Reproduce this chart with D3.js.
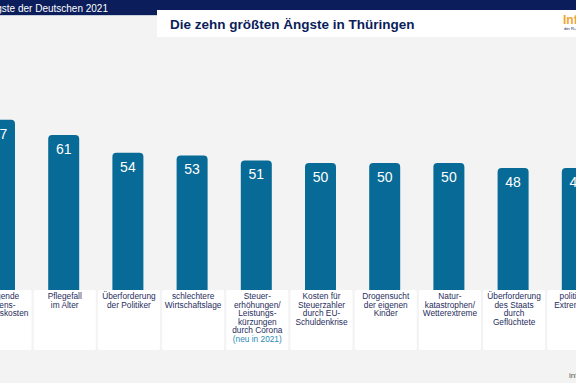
<!DOCTYPE html>
<html>
<head>
<meta charset="utf-8">
<script src="https://cdn.jsdelivr.net/npm/d3@7"></script>
<style>
  body { margin: 0; background: #f3f3f3; }
  svg { display: block; font-family: "Liberation Sans", Arial, sans-serif; }
</style>
</head>
<body>
<svg width="576" height="383"></svg>
<script>
// die zehn groessten Aengste, Thueringen
const categories = [
  "Steigende\nLebens-\nhaltungskosten",
  "Pflegefall\nim Alter",
  "Überforderung\nder Politiker",
  "schlechtere\nWirtschaftslage",
  "Steuer-\nerhöhungen/\nLeistungs-\nkürzungen\ndurch Corona",
  "Kosten für\nSteuerzahler\ndurch EU-\nSchuldenkrise",
  "Drogensucht\nder eigenen\nKinder",
  "Natur-\nkatastrophen/\nWetterextreme",
  "Überforderung\ndes Staats\ndurch\nGeflüchtete",
  "politischer\nExtremismus"
];
const values = [67, 61, 54, 53, 51, 50, 50, 50, 48, 48];
const notes = ["", "", "", "", "(neu in 2021)", "", "", "", "", ""];

const navy = '#0b1d5a';
const barColor = '#086a96';

const svg = d3.select('svg');
const width = +svg.attr('width');

// header band
svg.append('rect').attr('x', 0).attr('y', 0).attr('width', width).attr('height', 15).attr('fill', navy);
svg.append('rect').attr('x', 0).attr('y', 15).attr('width', width).attr('height', 1).attr('fill', '#c9d0de');
svg.append('text')
  .attr('x', 108).attr('y', 11.5)
  .attr('text-anchor', 'end')
  .attr('fill', 'white')
  .attr('font-size', 10)
  .text('Die Ängste der Deutschen 2021');

// title box
svg.append('rect').attr('x', 157).attr('y', 10).attr('width', width - 157).attr('height', 27).attr('fill', 'white');
svg.append('text')
  .attr('x', 170).attr('y', 28.5)
  .attr('fill', navy)
  .attr('font-size', 13.5)
  .attr('font-weight', 'bold')
  .text('Die zehn größten Ängste in Thüringen');

// logo bits
svg.append('text').attr('x', 563).attr('y', 24).attr('fill', '#f2a531')
  .attr('font-size', 12).attr('font-weight', 'bold').text('Infocenter');
svg.append('text').attr('x', 564).attr('y', 30).attr('fill', navy)
  .attr('font-size', 4).text('der R+V Versicherung');

const x = d3.scaleBand()
  .domain(categories)
  .range([-32.6, -32.6 + 64.2 * categories.length])
  .paddingInner(0).paddingOuter(0);

const y = d3.scaleLinear().domain([0, 100]).range([290, 36]);

const barW = 31;
const r = 4;

function barPath(cx, top, bottom) {
  const x0 = cx - barW / 2, x1 = cx + barW / 2;
  return `M${x0},${bottom} L${x0},${top + r} Q${x0},${top} ${x0 + r},${top}
    L${x1 - r},${top} Q${x1},${top} ${x1},${top + r} L${x1},${bottom} Z`;
}

const g = svg.append('g');

g.selectAll('path.bar')
  .data(categories)
  .join('path')
  .attr('class', 'bar')
  .attr('fill', barColor)
  .attr('d', (d, i) => barPath(x(d) + x.bandwidth() / 2, y(values[i]), y(0)));

g.selectAll('text.val')
  .data(categories)
  .join('text')
  .attr('class', 'val')
  .attr('x', d => x(d) + x.bandwidth() / 2)
  .attr('y', (d, i) => y(values[i]) + 19)
  .attr('text-anchor', 'middle')
  .attr('fill', 'white')
  .attr('font-size', 14)
  .text((d, i) => values[i]);

// label boxes
g.selectAll('rect.lab')
  .data(categories)
  .join('rect')
  .attr('class', 'lab')
  .attr('x', d => x(d) + x.bandwidth() / 2 - 30)
  .attr('y', y(0))
  .attr('width', 62)
  .attr('height', 60)
  .attr('rx', 1.5)
  .attr('fill', 'white');

const labels = g.selectAll('text.cat')
  .data(categories)
  .join('text')
  .attr('class', 'cat')
  .attr('x', d => x(d) + x.bandwidth() / 2 + 1)
  .attr('y', y(0) + 9)
  .attr('text-anchor', 'middle')
  .attr('fill', '#1f2d5c')
  .attr('font-size', 8.3);

labels.each(function (d, i) {
  const t = d3.select(this);
  const lines = d.split('\n');
  lines.forEach((line, j) => {
    t.append('tspan')
      .attr('x', x(d) + x.bandwidth() / 2 + 1)
      .attr('dy', j === 0 ? 0 : 8.6)
      .text(line);
  });
  if (notes[i]) {
    t.append('tspan')
      .attr('x', x(d) + x.bandwidth() / 2 + 1)
      .attr('dy', 8.6)
      .attr('fill', '#2b8bb3')
      .text(notes[i]);
  }
});

// source, cut at the edge
svg.append('text').attr('x', 569).attr('y', 378).attr('fill', '#555')
  .attr('font-size', 8).text('infocenter');
</script>
</body>
</html>
